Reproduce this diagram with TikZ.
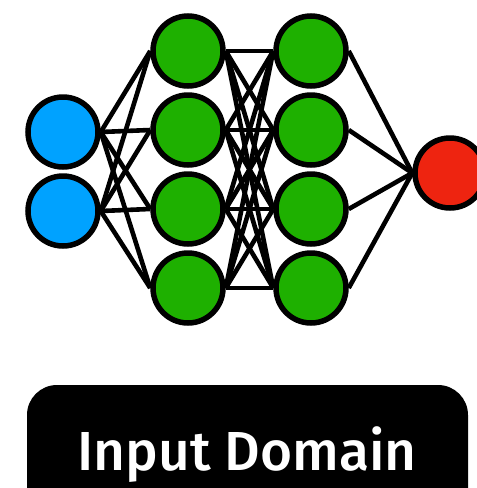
\documentclass[tikz,border=0pt]{standalone}
\usepackage{fontspec}
\setmainfont{Open Sans}
\newfontfamily\labelfont{Fira Sans Medium}
\usetikzlibrary{backgrounds}
\definecolor{inblue}{RGB}{0,162,255}
\definecolor{hidgreen}{RGB}{30,176,0}
\definecolor{outred}{RGB}{238,36,16}
\tikzset{
  neuron/.style={circle,draw=black,line width=5.5pt,minimum size=70pt,inner sep=0pt},
  inneuron/.style={neuron,fill=inblue},
  hidneuron/.style={neuron,fill=hidgreen},
  outneuron/.style={neuron,fill=outred},
  link/.style={line width=4.6pt,black},
  labelbox/.style={fill=black,rounded corners=30pt}
}
\begin{document}
\begin{tikzpicture}[x=1pt,y=-1pt]
\useasboundingbox (0,0) rectangle (477,488);
\node[inneuron] (i1) at (63,132) {};
\node[inneuron] (i2) at (63,211) {};
\foreach \k/\y in {1/51,2/130,3/209,4/288}{
  \node[hidneuron] (a\k) at (188,\y) {};
  \node[hidneuron] (b\k) at (311,\y) {};
}
\node[outneuron] (o) at (450,173) {};
\begin{pgfonlayer}{background}
\foreach \i in {1,2}{\foreach \k in {1,2,3,4}{\draw[link] (i\i.east) -- (a\k.west);}}
\foreach \i in {1,2,3,4}{\foreach \k in {1,2,3,4}{\draw[link] (a\i.east) -- (b\k.west);}}
\foreach \k in {1,2,3,4}{\draw[link] (b\k.east) -- (o.west);}
\end{pgfonlayer}
\fill[labelbox] (27,385) rectangle (468,520);
\node[text=white,font=\labelfont\fontsize{55}{64}\selectfont,anchor=base] (lbl) at (247,470) {Input Domain};
\end{tikzpicture}
\end{document}
